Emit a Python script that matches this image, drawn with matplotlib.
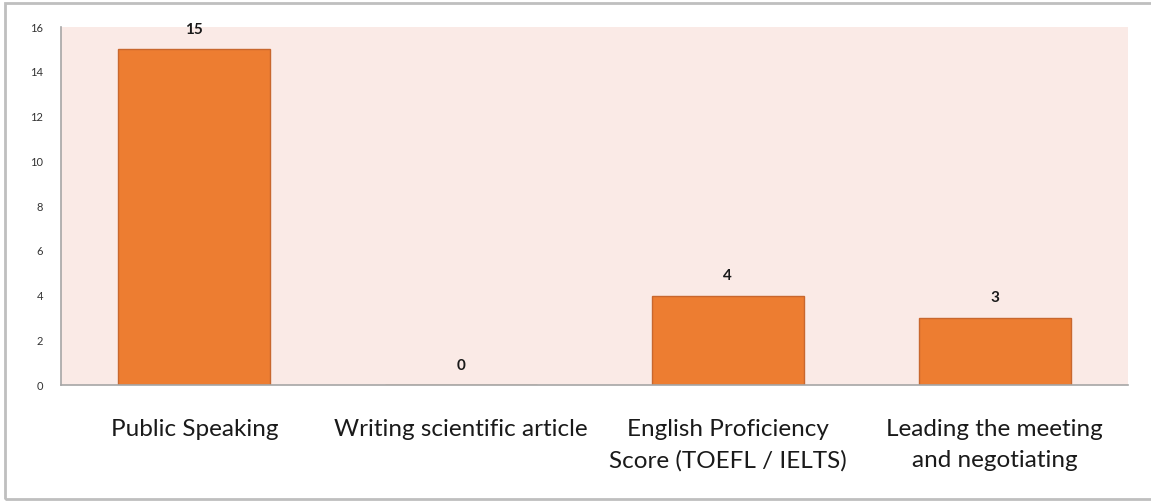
import numpy as np
import matplotlib.pyplot as plt
from matplotlib.patches import Rectangle

# chart data
categories = ['Public Speaking', 'Writing scientific article',
              'English Proficiency\nScore (TOEFL / IELTS)',
              'Leading the meeting\nand negotiating']
values = [15, 0, 4, 3]
yticks = [0, 2, 4, 6, 8, 10, 12, 14, 16]

plt.rcParams['font.family'] = ['Lato', 'DejaVu Sans']

fig = plt.figure(figsize=(11.51, 5.01), dpi=100)
ax = fig.add_axes([0.053, 0.2315, 0.927, 0.7146])
ax.set_facecolor('#FAEAE6')

x = np.arange(len(categories))
bars = ax.bar(x, values, width=0.57, color='#ED7D31', edgecolor='#C8672E',
              linewidth=1.0, zorder=2)

# value labels above bars
for xi, v in zip(x, values):
    ax.annotate(str(v), (xi, v), xytext=(0, 9), textcoords='offset points',
                ha='center', va='bottom', fontsize=11, fontweight='bold',
                color='#1a1a1a')

ax.set_xlim(-0.5, len(categories) - 0.5)
ax.set_ylim(0, 16)
ax.set_yticks(yticks)
ax.set_yticklabels([str(t) for t in yticks], fontsize=8, color='#333333')
ax.tick_params(axis='y', length=0, pad=13)
ax.set_xticks(x)
ax.set_xticklabels(categories, fontsize=17.5, color='#1a1a1a',
                   linespacing=1.6, va='top')
ax.tick_params(axis='x', length=0, pad=24.5)

for s in ['top', 'right']:
    ax.spines[s].set_visible(False)
for s in ['left', 'bottom']:
    ax.spines[s].set_color('#A6A6A6')
    ax.spines[s].set_linewidth(1.2)

# outer chart border
fig.patches.append(Rectangle((5 / 1151, 2 / 501), 1.0, 496 / 501,
                             transform=fig.transFigure, fill=False,
                             edgecolor='#BFBFBF', linewidth=2.0))

fig.savefig('out.png', dpi=100)
